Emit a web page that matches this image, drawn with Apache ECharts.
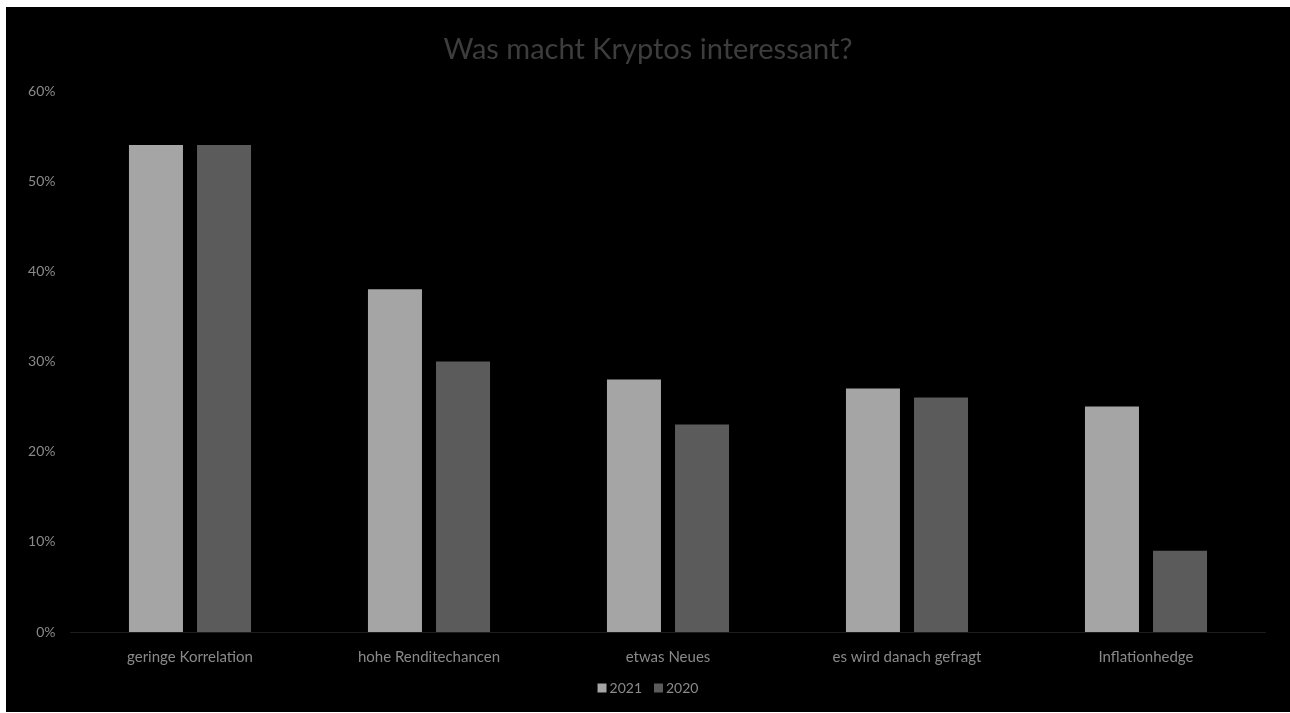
<!DOCTYPE html>
<html>
<head>
<meta charset="utf-8">
<script src="https://cdn.jsdelivr.net/npm/echarts@6/dist/echarts.min.js"></script>
<style>
html,body{margin:0;padding:0;background:#ffffff;width:1290px;height:713px;overflow:hidden;}
#chart{position:absolute;left:6px;top:7px;width:1284px;height:705px;background:#000000;}
</style>
</head>
<body>
<div id="chart"></div>
<script>
const categories = ['geringe Korrelation', 'hohe Renditechancen', 'etwas Neues', 'es wird danach gefragt', 'Inflationhedge'];
const seriesNames = ['2021', '2020'];
const values2021 = [0.54, 0.38, 0.28, 0.27, 0.25];
const values2020 = [0.54, 0.30, 0.23, 0.26, 0.09];
const yTicks = [0, 0.1, 0.2, 0.3, 0.4, 0.5, 0.6];

const chart = echarts.init(document.getElementById('chart'), null, {renderer: 'canvas'});
const font = 'Lato, "Open Sans", sans-serif';
chart.setOption({
  backgroundColor: '#000000',
  animation: false,
  title: {
    text: 'Was macht Kryptos interessant?',
    left: 'center',
    top: 23,
    textStyle: {color: '#3d3d3d', fontFamily: font, fontSize: 29, fontWeight: 'normal'}
  },
  legend: {
    data: seriesNames,
    bottom: 12,
    left: 'center',
    itemWidth: 9,
    itemHeight: 9,
    itemGap: 12,
    icon: 'rect',
    textStyle: {color: '#8a8a8a', fontFamily: font, fontSize: 14, padding: [0, 0, 0, -2]}
  },
  grid: {left: 64.5, right: 24.5, top: 84, bottom: 80, containLabel: false},
  xAxis: {
    type: 'category',
    data: categories,
    axisLine: {show: true, lineStyle: {color: '#1e1e1e'}},
    axisTick: {show: false},
    axisLabel: {color: '#8a8a8a', fontFamily: font, fontSize: 15, margin: 18}
  },
  yAxis: {
    type: 'value',
    min: yTicks[0],
    max: yTicks[yTicks.length - 1],
    interval: 0.1,
    splitLine: {show: false},
    axisLine: {show: false},
    axisTick: {show: false},
    axisLabel: {
      color: '#8a8a8a', fontFamily: font, fontSize: 14, margin: 15,
      formatter: v => Math.round(v * 100) + '%'
    }
  },
  series: [
    {name: seriesNames[0], type: 'bar', data: values2021, itemStyle: {color: '#a5a5a5'}, barWidth: '22.6%', barGap: '26%'},
    {name: seriesNames[1], type: 'bar', data: values2020, itemStyle: {color: '#5b5b5b'}, barWidth: '22.6%', barGap: '26%'}
  ]
});
</script>
</body>
</html>
